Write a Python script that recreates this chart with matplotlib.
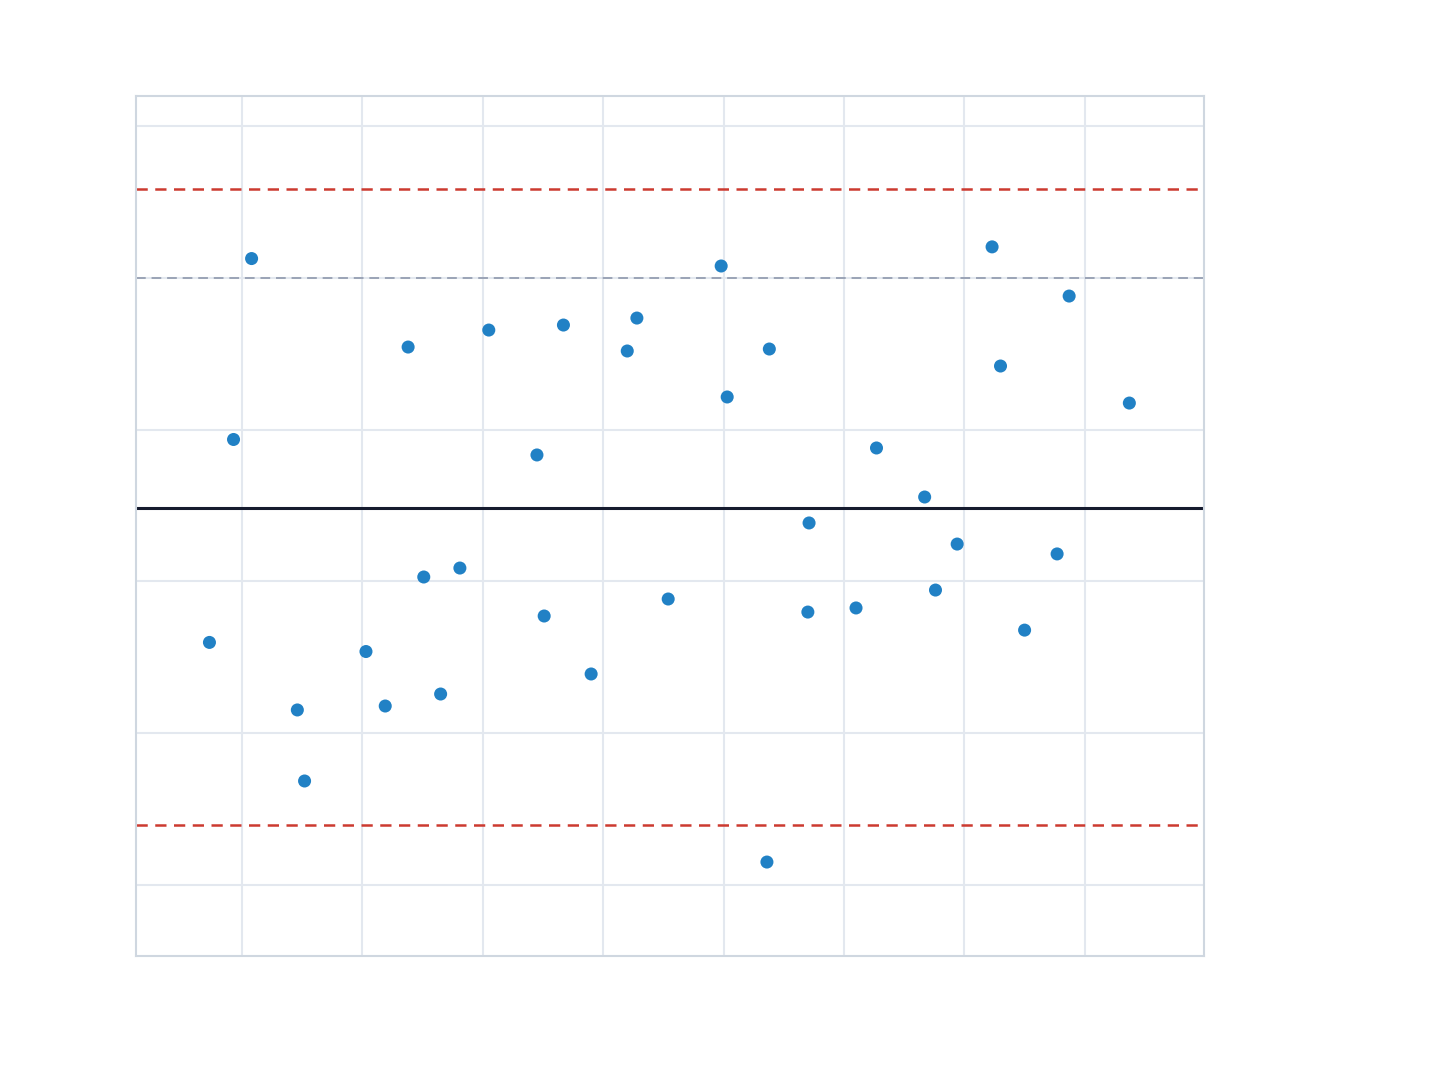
import matplotlib
matplotlib.use("Agg")
import matplotlib.pyplot as plt
import numpy as np

# sample positions (grid interval = 1 unit) and measured values
x_vals = [0.73, 0.93, 1.08, 1.46, 1.52, 2.03, 2.19, 2.38, 2.51, 2.65,
          2.81, 3.05, 3.45, 3.51, 3.67, 3.90, 4.20, 4.28, 4.54, 4.98,
          5.03, 5.36, 5.38, 5.70, 5.71, 6.10, 6.27, 6.67, 6.76, 6.94,
          7.23, 7.30, 7.50, 7.77, 7.87, 8.37]
y_vals = [15.98, 29.35, 41.27, 11.53, 6.85, 15.38, 11.79, 35.44, 20.29, 12.58,
          20.88, 36.56, 28.33, 17.72, 36.89, 13.90, 35.18, 37.35, 18.84, 40.78,
          32.15, 1.51, 35.31, 17.98, 23.85, 18.25, 28.79, 25.56, 19.43, 22.46,
          42.04, 34.19, 16.79, 21.81, 38.80, 31.75]

center = 24.85
ucl = 45.85
lcl = 3.95
target = 40.0

fig, ax = plt.subplots(figsize=(14.4, 10.8), dpi=100)
fig.subplots_adjust(left=136 / 1440, right=1204 / 1440,
                    bottom=1 - 956 / 1080, top=1 - 96 / 1080)

ax.set_xlim(0.12, 8.99)
ax.set_ylim(-4.68, 51.98)
ax.set_xticks(np.arange(1, 9))
ax.set_yticks(np.arange(0, 51, 10))
ax.grid(True, color="#e3e8ef", lw=1.5)
ax.set_axisbelow(True)
ax.tick_params(length=0, labelbottom=False, labelleft=False)
for sp in ax.spines.values():
    sp.set_color("#cfd7e0")
    sp.set_linewidth(1.5)

ax.axhline(ucl, color="#cc3a30", lw=1.8, ls=(0, (4.5, 3)))
ax.axhline(lcl, color="#cc3a30", lw=1.8, ls=(0, (4.5, 3)))
ax.axhline(target, color="#9ba4b6", lw=1.4, ls=(0, (5, 3)))
ax.axhline(center, color="#161b2e", lw=2.2)

ax.scatter(x_vals, y_vals, s=88, color="#2181c5", zorder=3, edgecolors="none")

fig.savefig("out.png", dpi=100)
